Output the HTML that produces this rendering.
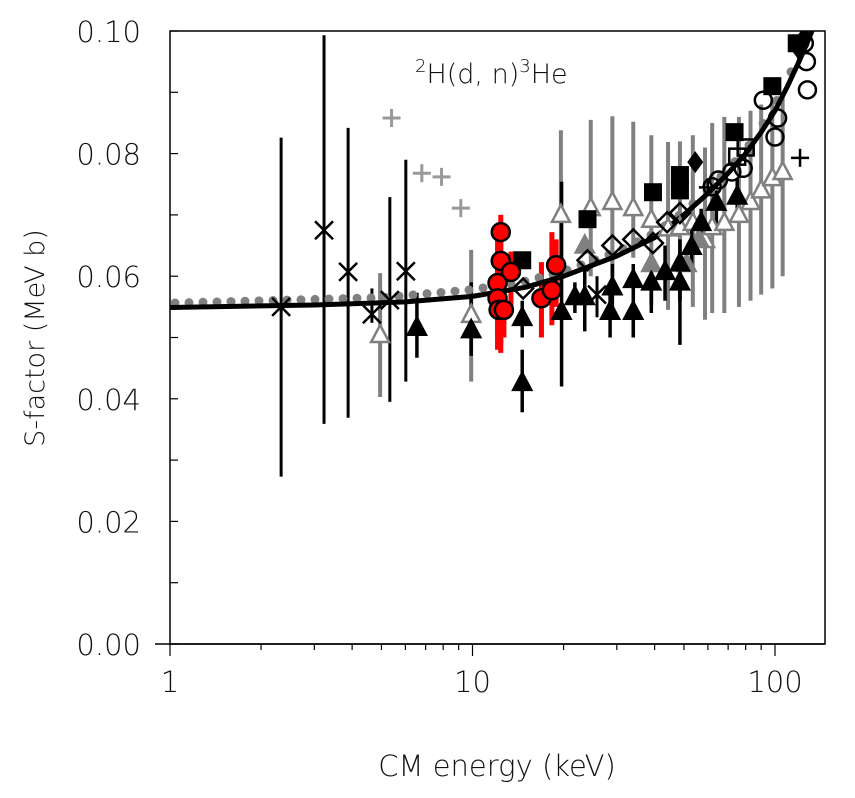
<!DOCTYPE html>
<html><head><meta charset="utf-8"><style>
html,body{margin:0;padding:0;background:#fff;}
svg text{font-family:"DejaVu Sans","Liberation Sans",sans-serif;font-weight:200;}
</style></head><body>
<svg id="chart" width="855" height="793" xmlns="http://www.w3.org/2000/svg">
<defs><clipPath id="clip"><rect x="170" y="31" width="655" height="613"/></clipPath></defs>
<g id="axes"></g>
<g id="marks" clip-path="url(#clip)"></g>
<text x="415" y="83" font-size="27" fill="#111"><tspan font-size="18" dy="-11">2</tspan><tspan dy="11">H(d, n)</tspan><tspan font-size="18" dy="-11">3</tspan><tspan dy="11">He</tspan></text>
<text x="497" y="776" font-size="29" text-anchor="middle" fill="#111">CM energy (keV)</text>
<text transform="translate(44,338) rotate(-90)" font-size="27" text-anchor="middle" fill="#111">S-factor (MeV b)</text>
</svg>
<script>
const yTicks=[0,0.02,0.04,0.06,0.08,0.10];
const yTickLabels=["0.00","0.02","0.04","0.06","0.08","0.10"];
const xTicks=[1,10,100];
const xTickLabels=["1","10","100"];
const fitE=[1,3,6,10,15,20,30,40,50,60,70,80,90,100,110,120,130,140];
const fitS=[0.0549,0.0553,0.0558,0.0567,0.0582,0.060,0.0633,0.0663,0.070,0.0735,0.0768,0.080,0.0835,0.087,0.091,0.095,0.099,0.103];
const dotE=[1,5,10,15,20,30,40,50,60,80,100,120,140];
const dotS=[0.0556,0.0565,0.0578,0.0592,0.0608,0.064,0.067,0.0705,0.074,0.0805,0.088,0.096,0.102];
const crossE=[2.33,3.23,3.88,4.65,5.33,6.02,25.8];
const crossS=[0.055,0.0675,0.0607,0.0538,0.0561,0.0608,0.057];
const crossHi=[0.0826,0.0993,0.0842,0.058,0.0729,0.079,0.060];
const crossLo=[0.0273,0.0359,0.0369,0.0524,0.0395,0.0428,0.0533];
const grayPlusE=[5.4,6.8,7.9,9.15];
const grayPlusS=[0.0858,0.0768,0.0762,0.0711];
const redE=[12.4,12.4,13.4,12.1,12.1,12.2,12.7,16.9,18.3,18.9];
const redS=[0.0672,0.0625,0.0607,0.0589,0.0564,0.0545,0.0545,0.0564,0.0577,0.0618];
const redHi=[0.070,0.068,0.064,0.066,0.062,0.060,0.060,0.0623,0.0672,0.066];
const redLo=[0.0475,0.049,0.055,0.050,0.048,0.049,0.050,0.050,0.052,0.055];
const sqE=[14.6,24,39.5,48.5,48.5,73.5,98,118];
const sqS=[0.0626,0.0693,0.0737,0.0765,0.074,0.0835,0.091,0.098];
const openSqE=[75,80];
const openSqS=[0.0795,0.081];
const diaE=[14.7,24,29,34,39.5,44,48.5];
const diaS=[0.058,0.0626,0.065,0.066,0.0654,0.0688,0.0703];
const fDiaE=[54.5,120,125];
const fDiaS=[0.0786,0.097,0.099];
const circE=[62,65,72,78.5,91.5,100,102,128,127,125];
const circS=[0.0746,0.0757,0.077,0.0776,0.0887,0.0827,0.0858,0.0904,0.095,0.098];
const gTriE=[4.95,9.9,19.6,24.6,29,34,39,44.3,48.5,53.5,58.7,62,68,76,83,90,98,106];
const gTriS=[0.0504,0.0537,0.070,0.0711,0.0721,0.0711,0.0692,0.0678,0.068,0.0687,0.0659,0.068,0.0687,0.070,0.0721,0.074,0.076,0.077];
const gTriHi=[0.0605,0.0643,0.0838,0.0855,0.0861,0.0852,0.083,0.0819,0.082,0.083,0.081,0.085,0.086,0.086,0.087,0.088,0.089,0.090];
const gTriLo=[0.0403,0.0428,0.058,0.060,0.060,0.063,0.0553,0.0545,0.056,0.055,0.0529,0.054,0.054,0.055,0.056,0.057,0.058,0.060];
const gfTriE=[23.5,39,51,56];
const gfTriS=[0.065,0.062,0.062,0.066];
const bTriE=[6.55,9.9,14.6,14.6,19.7,21.8,23.5,28.5,29,34,34,39,43.3,48.5,48.5,53,57,64,75];
const bTriS=[0.0516,0.0512,0.0426,0.0532,0.0542,0.0566,0.0566,0.0542,0.0582,0.0594,0.0542,0.059,0.0607,0.0621,0.059,0.0648,0.0687,0.072,0.073];
const bTriHi=[0.0573,0.059,0.048,0.056,0.0754,0.059,0.061,0.058,0.062,0.062,0.058,0.062,0.065,0.064,0.066,0.068,0.071,0.074,0.076];
const bTriLo=[0.0467,0.047,0.0378,0.050,0.042,0.054,0.051,0.050,0.054,0.050,0.050,0.054,0.056,0.056,0.0488,0.061,0.065,0.068,0.070];
const bPlusE=[121,60];
const bPlusS=[0.0793,0.0745];

const X0=170,DEC=302.5,Y0=644,YS=6130;
const xs=e=>X0+DEC*Math.log10(e);
const ys=s=>Y0-YS*s;
const NS="http://www.w3.org/2000/svg";
const axes=document.getElementById('axes'),marks=document.getElementById('marks');
function mk(tag,attrs,parent){const el=document.createElementNS(NS,tag);for(const k in attrs)el.setAttribute(k,attrs[k]);parent.appendChild(el);return el;}

let fr=mk('rect',{x:170,y:31,width:655,height:613,fill:'none',stroke:'#000','stroke-width':1.5},axes);


let xl=mk('line',{x1:155,y1:644,x2:825,y2:644,stroke:'#000','stroke-width':1.5},axes);


for(let v=0;v<=0.1001;v+=0.01){const y=ys(v);let t=mk('line',{x1:170,y1:y,x2:178,y2:y,stroke:'#000','stroke-width':1.2},axes);

}
yTicks.forEach((v,i)=>{let t=mk('text',{x:141,y:ys(v)+11,'font-size':29,'text-anchor':'end',fill:'#111'},axes);t.textContent=yTickLabels[i];

});
for(let d=1;d<=100;d*=10){for(let m=1;m<10;m++){const e=d*m;const x=xs(e);if(x>825)continue;const big=m===1;let t=mk('line',{x1:x,y1:644,x2:x,y2:big?656:650,stroke:'#000','stroke-width':1.2},axes);

}}
xTicks.forEach((v,i)=>{let t=mk('text',{x:xs(v),y:692,'font-size':29,'text-anchor':'middle',fill:'#111'},axes);t.textContent=xTickLabels[i];

});

function bar(e,hi,lo,col,w){let l=mk('line',{x1:xs(e),y1:ys(hi),x2:xs(e),y2:ys(lo),stroke:col,'stroke-width':w},marks);

}
function tri(e,s,fill,stroke){const x=xs(e),y=ys(s);return mk('polygon',{points:`${x},${y-10} ${x-9},${y+7} ${x+9},${y+7}`,fill:fill,stroke:stroke,'stroke-width':2.5},marks);}

gTriE.forEach((e,i)=>bar(e,gTriHi[i],gTriLo[i],'#808080',4));
bTriE.forEach((e,i)=>bar(e,bTriHi[i],bTriLo[i],'#000',3.5));
crossE.forEach((e,i)=>bar(e,crossHi[i],crossLo[i],'#000',3));
redE.forEach((e,i)=>bar(e,redHi[i],redLo[i],'#f00',5));

for(let x=175;x<=825;x+=14){const e=Math.pow(10,(x-X0)/DEC);let k=0;while(k<dotE.length-2&&dotE[k+1]<e)k++;const t=(Math.log10(e)-Math.log10(dotE[k]))/(Math.log10(dotE[k+1])-Math.log10(dotE[k]));const s=dotS[k]+t*(dotS[k+1]-dotS[k]);let c=mk('circle',{cx:x,cy:ys(s),r:4.5,fill:'#808080'},marks);

}
let fl=mk('path',{d:fitE.map((e,i)=>(i?'L':'M')+xs(e).toFixed(1)+','+ys(fitS[i]).toFixed(1)).join(' '),fill:'none',stroke:'#000','stroke-width':5,'stroke-linejoin':'round'},marks);



gTriE.forEach((e,i)=>{let p=tri(e,gTriS[i],'#fff','#808080');

});
gfTriE.forEach((e,i)=>{let p=tri(e,gfTriS[i],'#808080','#808080');

});
bTriE.forEach((e,i)=>{let p=tri(e,bTriS[i],'#000','#000');

});
diaE.forEach((e,i)=>{const x=xs(e),y=ys(diaS[i]);let p=mk('polygon',{points:`${x},${y-10} ${x+10},${y} ${x},${y+10} ${x-10},${y}`,fill:'none',stroke:'#000','stroke-width':2.5},marks);

});
fDiaE.forEach((e,i)=>{const x=xs(e),y=ys(fDiaS[i]);let p=mk('polygon',{points:`${x},${y-11} ${x+8},${y} ${x},${y+11} ${x-8},${y}`,fill:'#000'},marks);

});
sqE.forEach((e,i)=>{const x=xs(e),y=ys(sqS[i]);let p=mk('rect',{x:x-9,y:y-9,width:18,height:18,fill:'#000'},marks);

});
openSqE.forEach((e,i)=>{const x=xs(e),y=ys(openSqS[i]);let p=mk('rect',{x:x-8,y:y-8,width:16,height:16,fill:'none',stroke:'#000','stroke-width':2.5},marks);

});
circE.forEach((e,i)=>{let c=mk('circle',{cx:xs(e),cy:ys(circS[i]),r:8.5,fill:'none',stroke:'#000','stroke-width':2.5},marks);

});
crossE.forEach((e,i)=>{const x=xs(e),y=ys(crossS[i]);let p=mk('path',{d:`M${x-9},${y-9}L${x+9},${y+9}M${x+9},${y-9}L${x-9},${y+9}`,stroke:'#000','stroke-width':2.5},marks);

});
grayPlusE.forEach((e,i)=>{const x=xs(e),y=ys(grayPlusS[i]);let p=mk('path',{d:`M${x-9},${y}L${x+9},${y}M${x},${y-9}L${x},${y+9}`,stroke:'#999','stroke-width':3},marks);

});
bPlusE.forEach((e,i)=>{const x=xs(e),y=ys(bPlusS[i]);let p=mk('path',{d:`M${x-9},${y}L${x+9},${y}M${x},${y-9}L${x},${y+9}`,stroke:'#000','stroke-width':2.5},marks);

});
redE.forEach((e,i)=>{let c=mk('circle',{cx:xs(e),cy:ys(redS[i]),r:9,fill:'#f00',stroke:'#000','stroke-width':2.5},marks);

});
</script>
</body></html>
